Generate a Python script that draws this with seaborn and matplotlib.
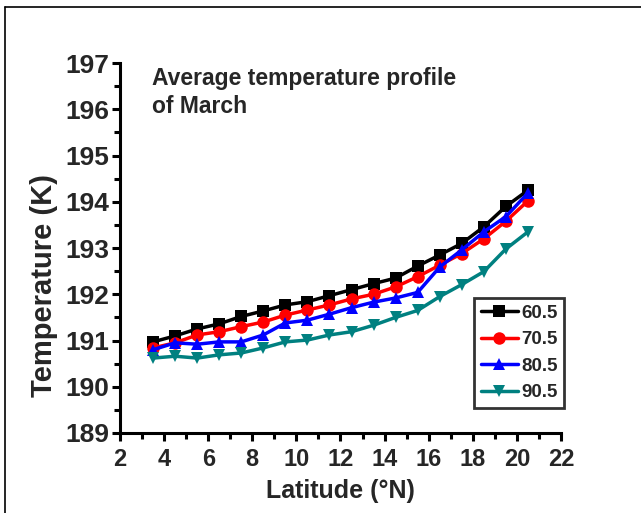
import numpy as np
import pandas as pd
import seaborn as sns
import matplotlib
matplotlib.use("Agg")
import matplotlib.pyplot as plt
from matplotlib.lines import Line2D
from matplotlib.ticker import MultipleLocator

latitude = [3.5, 4.5, 5.5, 6.5, 7.5, 8.5, 9.5, 10.5, 11.5, 12.5,
            13.5, 14.5, 15.5, 16.5, 17.5, 18.5, 19.5, 20.5]
t_60_5 = [190.97, 191.10, 191.25, 191.36, 191.52, 191.64, 191.77, 191.84, 191.97,
          192.10, 192.23, 192.35, 192.61, 192.85, 193.10, 193.46, 193.90, 194.25]
t_70_5 = [190.84, 190.95, 191.12, 191.19, 191.30, 191.40, 191.55, 191.66, 191.77,
          191.90, 192.00, 192.16, 192.38, 192.63, 192.88, 193.20, 193.58, 194.02]
t_80_5 = [190.80, 190.95, 190.92, 190.97, 190.97, 191.12, 191.38, 191.44, 191.57,
          191.71, 191.83, 191.92, 192.04, 192.59, 192.96, 193.35, 193.68, 194.19]
t_90_5 = [190.62, 190.66, 190.62, 190.69, 190.73, 190.84, 190.97, 191.01, 191.12,
          191.19, 191.33, 191.50, 191.65, 191.95, 192.21, 192.49, 192.98, 193.35]
series_names = ["60.5", "70.5", "80.5", "90.5"]
x_ticks = [2, 4, 6, 8, 10, 12, 14, 16, 18, 20, 22]
y_ticks = [189, 190, 191, 192, 193, 194, 195, 196, 197]

rows = []
for name, vals in zip(series_names, [t_60_5, t_70_5, t_80_5, t_90_5]):
    for x, v in zip(latitude, vals):
        rows.append({"Latitude": x, "Temperature": v, "Series": name})
df = pd.DataFrame(rows)

sns.set_theme(style="ticks")
plt.rcParams['font.family'] = ['Liberation Sans', 'DejaVu Sans']
plt.rcParams['font.weight'] = 'bold'

fig = plt.figure(figsize=(6.41, 5.13), dpi=100)
ax = fig.add_axes([0.1872, 0.156, 0.688, 0.721])

palette = {"60.5": "#000000", "70.5": "#ff0000", "80.5": "#0000ff", "90.5": "#008080"}
markers = {"60.5": "s", "70.5": "o", "80.5": "^", "90.5": "v"}
sns.lineplot(data=df, x="Latitude", y="Temperature", hue="Series", style="Series",
             palette=palette, markers=markers, dashes=False, ax=ax,
             linewidth=2.5, markersize=9, markeredgewidth=0)

ax.set_xlim(2, 22)
ax.set_ylim(189, 197)
ax.set_xticks(x_ticks)
ax.set_yticks(y_ticks)
ax.xaxis.set_minor_locator(MultipleLocator(1))
ax.yaxis.set_minor_locator(MultipleLocator(0.5))
for s in ["top", "right"]:
    ax.spines[s].set_visible(False)
for s in ["left", "bottom"]:
    ax.spines[s].set_linewidth(2.2)
    ax.spines[s].set_color("black")
ax.tick_params(which="major", direction="out", length=6, width=2.2, color="black")
ax.tick_params(which="minor", direction="out", length=4, width=2.2, color="black")
ax.tick_params(axis="x", labelsize=17, pad=5)
ax.tick_params(axis="y", labelsize=19, pad=2)
for lab in ax.get_xticklabels() + ax.get_yticklabels():
    lab.set_fontweight("bold")

ax.set_xlabel("Latitude (°N)", fontsize=18, fontweight="bold")
ax.set_ylabel("Temperature (K)", fontsize=21, fontweight="bold")
ax.xaxis.set_label_coords(0.5, -0.125)
ax.yaxis.set_label_coords(-0.14, 0.40)

ax.text(0.072, 0.99, "Average temperature profile\nof March", transform=ax.transAxes,
        fontsize=16.5, fontweight="bold", va="top", ha="left", linespacing=1.3)

leg = ax.legend(loc="upper left", bbox_to_anchor=(0.803, 0.365), borderaxespad=0,
                fontsize=13.5, frameon=True, fancybox=False, edgecolor="black",
                handlelength=2.0, handletextpad=0.15, borderpad=0.35,
                labelspacing=0.5, title=None)
leg.get_frame().set_linewidth(2)
for t in leg.get_texts():
    t.set_fontweight("bold")
for h in leg.legend_handles:
    h.set_linewidth(2.5)

fig.add_artist(Line2D([5/641, 1.0], [1 - 7/513, 1 - 7/513], color="black", lw=1.2,
                      transform=fig.transFigure))
fig.add_artist(Line2D([5/641, 5/641], [0, 1 - 7/513], color="black", lw=1.2,
                      transform=fig.transFigure))

fig.savefig("out.png", dpi=100)
